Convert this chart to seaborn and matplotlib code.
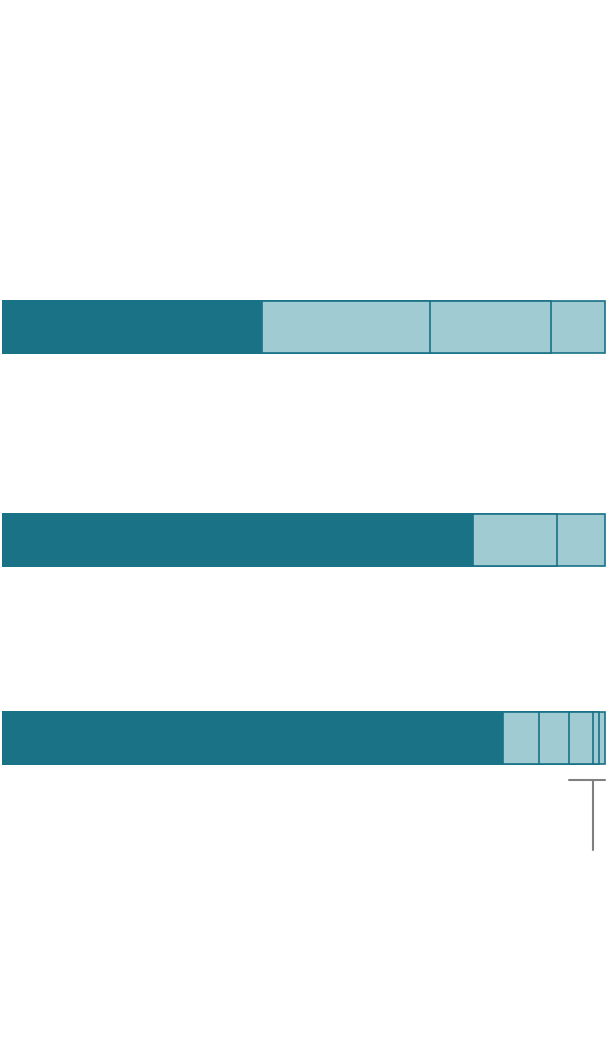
import numpy as np
import pandas as pd
import matplotlib
matplotlib.use("Agg")
import matplotlib.pyplot as plt
import matplotlib.transforms as mtransforms
import seaborn as sns

# --- data (percent shares per bar) ---
bar_names = ["Bar A", "Bar B", "Bar C"]
bar_a = [43, 28, 20, 9]
bar_b = [78, 14, 8]
bar_c = [83, 6, 5, 4, 1, 1]
all_bars = [bar_a, bar_b, bar_c]

DARK = "#1a7287"
LIGHT = "#a0cbd2"
GRAY = "#808080"

sns.set_theme(style="white")
W, H = 608, 1060
fig = plt.figure(figsize=(W / 100, H / 100), dpi=100)
fig.patch.set_facecolor("white")

# pixel layout of each bar (top, bottom)
bar_rows = [(301, 353), (514, 566), (712, 764)]
left_px, right_px = 3, 605

axes = []
for name, vals, (top, bot) in zip(bar_names, all_bars, bar_rows):
    ax = fig.add_axes([left_px / W, 1 - bot / H, (right_px - left_px) / W, (bot - top) / H])
    cum = np.cumsum(vals)
    # draw cumulative bars from the longest to the shortest, so each segment shows
    for k in range(len(vals) - 1, -1, -1):
        df = pd.DataFrame({"name": [name], "value": [cum[k]]})
        sns.barplot(data=df, x="value", y="name", orient="h", ax=ax,
                    color=DARK if k == 0 else LIGHT, width=1.0,
                    edgecolor=DARK, linewidth=1.2, saturation=1)
    for p in ax.patches:
        p.set_clip_on(False)
    ax.set_xlim(0, 100)
    ax.set_ylim(0.5, -0.5)
    ax.axis("off")
    axes.append(ax)

# bracket annotation under the small segments of the last bar
ax = axes[2]
cum_c = np.cumsum(bar_c)
tr = mtransforms.blended_transform_factory(ax.transData, fig.transFigure)
x0 = cum_c[2]
x1 = cum_c[-1]
xm = cum_c[3]
ax.plot([x0, x1], [1 - 780 / H, 1 - 780 / H], color=GRAY, lw=1.5, transform=tr, clip_on=False)
ax.plot([xm, xm], [1 - 780 / H, 1 - 850 / H], color=GRAY, lw=1.5, transform=tr, clip_on=False)

fig.savefig("out.png", dpi=100, facecolor="white")
